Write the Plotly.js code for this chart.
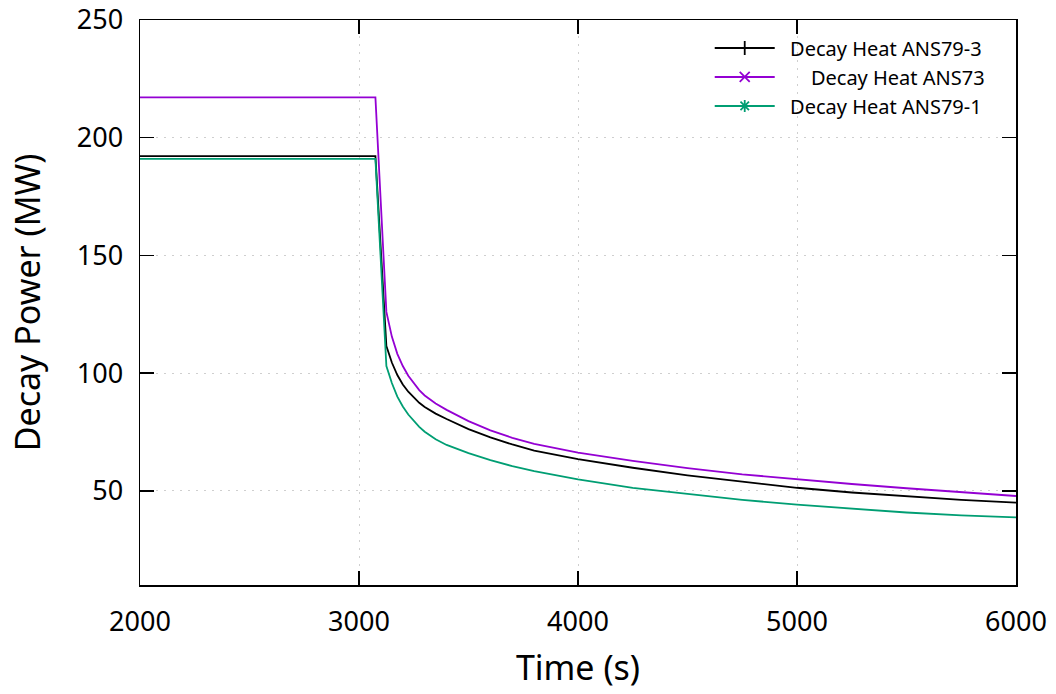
<!DOCTYPE html>
<html>
<head>
<meta charset="utf-8">
<script src="https://cdn.plot.ly/plotly-3.0.1.min.js"></script>
<style>html,body{margin:0;padding:0;background:#fff;}#chart{width:1056px;height:694px;}</style>
</head>
<body>
<div id="chart"></div>
<script>
// Time (s)
const timeS = [2000, 3075, 3125, 3150, 3175, 3200, 3225, 3250, 3275, 3300, 3350, 3400, 3450, 3500, 3600, 3700, 3800, 3900, 4000, 4250, 4500, 4750, 5000, 5250, 5500, 5750, 6000];
// Decay Heat ANS79-3 (MW)
const ans79_3 = [192.2, 192.2, 111.5, 104.5, 99.2, 95.2, 92.1, 89.6, 87.4, 85.6, 82.8, 80.5, 78.2, 76.2, 72.7, 69.7, 67.1, 65.2, 63.5, 59.8, 56.6, 53.9, 51.3, 49.3, 47.6, 46.2, 45.0];
// Decay Heat ANS73 (MW)
const ans73 = [217.1, 217.1, 126, 115.5, 108.2, 103, 98.9, 95.6, 92.8, 90.5, 87.1, 84.4, 81.9, 79.6, 75.7, 72.5, 69.9, 67.9, 66.2, 62.7, 59.6, 57.0, 54.9, 52.9, 51.1, 49.4, 47.8];
// Decay Heat ANS79-1 (MW)
const ans79_1 = [191.0, 191.0, 103, 95.8, 90, 85.8, 82.4, 79.6, 77.2, 75.1, 71.9, 69.5, 67.6, 66.0, 63.0, 60.5, 58.4, 56.6, 54.9, 51.3, 48.6, 46.2, 44.1, 42.3, 40.8, 39.6, 38.7];

const seriesNames = ["Decay Heat ANS79-3", "\u00a0\u00a0\u00a0\u00a0Decay Heat ANS73", "Decay Heat ANS79-1"];
const seriesColors = ["#000000", "#9400d3", "#009e73"];
const seriesSymbols = ["cross-thin-open", "x-thin-open", "asterisk-open"];
const seriesData = [ans79_3, ans73, ans79_1];

const FONT = "Noto Sans, Open Sans, DejaVu Sans, sans-serif";

const traces = [];
seriesData.forEach((ys, i) => {
  traces.push({
    x: timeS, y: ys, type: "scatter", mode: "lines",
    line: {color: seriesColors[i], width: 1.8},
    showlegend: false, hoverinfo: "skip"
  });
});
seriesData.forEach((ys, i) => {
  traces.push({
    x: [null], y: [null], type: "scatter", mode: "lines+markers",
    name: "\u00a0\u00a0" + seriesNames[i],
    line: {color: seriesColors[i], width: 1.8},
    marker: {symbol: seriesSymbols[i], size: 10, color: seriesColors[i], line: {color: seriesColors[i], width: 1.8}},
    showlegend: true
  });
});

const layout = {
  width: 1056, height: 694,
  margin: {l: 140, r: 40, t: 20, b: 109},
  paper_bgcolor: "#ffffff", plot_bgcolor: "#ffffff",
  font: {family: FONT, color: "#000000"},
  showlegend: true,
  legend: {
    x: 0.97, xanchor: "right", y: 0.985, yanchor: "top",
    bgcolor: "rgba(0,0,0,0)", borderwidth: 0,
    font: {family: FONT, size: 20, color: "#000000"},
    tracegroupgap: 0, itemwidth: 60
  },
  xaxis: {
    range: [2000, 6000], tickvals: [2000, 3000, 4000, 5000, 6000],
    showline: true, linecolor: "#000000", linewidth: 1.5, mirror: "ticks",
    ticks: "inside", ticklen: 14, tickwidth: 1.5, tickcolor: "#000000",
    showgrid: true, gridcolor: "#cfcfcf", griddash: "2px,6px", gridwidth: 1,
    zeroline: false,
    tickfont: {family: FONT, size: 27, color: "#000000"},
    ticklabelstandoff: 12,
    title: {text: "Time (s)", font: {family: FONT, size: 34, color: "#000000"}, standoff: 18}
  },
  yaxis: {
    range: [10, 250], tickvals: [50, 100, 150, 200, 250],
    showline: true, linecolor: "#000000", linewidth: 1.5, mirror: "ticks",
    ticks: "inside", ticklen: 14, tickwidth: 1.5, tickcolor: "#000000",
    showgrid: true, gridcolor: "#cfcfcf", griddash: "2px,6px", gridwidth: 1,
    zeroline: false,
    tickfont: {family: FONT, size: 27, color: "#000000"},
    ticklabelstandoff: 10,
    title: {text: "Decay Power (MW)", font: {family: FONT, size: 34, color: "#000000"}, standoff: 26}
  }
};

Plotly.newPlot("chart", traces, layout, {displayModeBar: false, staticPlot: true});
</script>
</body>
</html>
